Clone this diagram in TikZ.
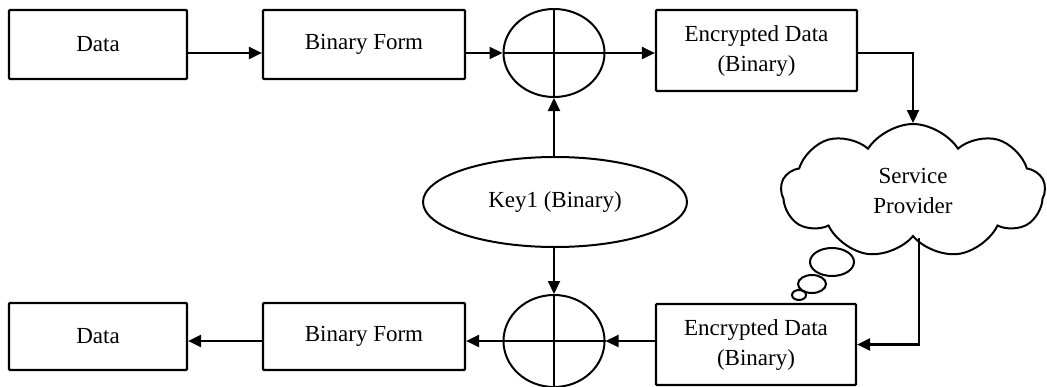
\documentclass[tikz,border=0pt]{standalone}
\usepackage{fontspec}
\setmainfont{Liberation Serif}
\usetikzlibrary{shapes.geometric,shapes.symbols,arrows.meta}
\begin{document}
\begin{tikzpicture}[x=1pt,y=-1pt,
  every node/.style={font=\fontsize{23}{30}\selectfont, inner sep=0pt, align=center},
  stagebox/.style={draw, line width=2.2pt, rounded corners=1pt},
  xorring/.style={draw, ellipse, line width=2pt, minimum width=101pt},
  keyoval/.style={draw, ellipse, line width=2pt, minimum width=264pt, minimum height=90pt},
  flow/.style={line width=2.2pt, -{Triangle[length=13pt,width=12pt]}}]
  \fill[white] (0,0) rectangle (1047,386);
  \useasboundingbox (0,0) rectangle (1047,386);

  % encryption row
  \node[stagebox, minimum width=178pt, minimum height=69pt] (data1) at (98,44.5) {Data};
  \node[stagebox, minimum width=202pt, minimum height=69pt] (bin1) at (364,44.5) {Binary Form};
  \node[xorring, minimum height=88pt] (xor1) at (554,53) {};
  \node[stagebox, minimum width=201pt, minimum height=81pt] (enc1) at (756.5,50.5) {Encrypted Data\\(Binary)};

  % key
  \node[keyoval] (key) at (555,202) {Key1 (Binary)};

  % service provider cloud and its thought bubbles
  \node[cloud, draw, line width=2pt, cloud puffs=9, cloud puff arc=115, cloud ignores aspect,
        minimum width=264pt, minimum height=134pt] (cloud) at (913,191) {Service\\Provider};
  \coordinate (exit) at ([xshift=6pt]cloud.south);
  \draw[line width=2pt] (832,262) ellipse [x radius=22, y radius=14];
  \draw[line width=2pt] (812,284) ellipse [x radius=14, y radius=9];
  \draw[line width=2pt] (799,295) ellipse [x radius=7, y radius=5];

  % decryption row
  \node[stagebox, minimum width=178pt, minimum height=67pt] (data2) at (98,336.5) {Data};
  \node[stagebox, minimum width=202pt, minimum height=67pt] (bin2) at (364,336.5) {Binary Form};
  \node[xorring, minimum height=92pt] (xor2) at (554,341) {};
  \node[stagebox, minimum width=200pt, minimum height=81pt] (enc2) at (756,344.5) {Encrypted Data\\(Binary)};

  % crosses inside the XOR symbols
  \draw[line width=2pt] (xor1.north) -- (xor1.south) (xor1.west) -- (xor1.east);
  \draw[line width=2pt] (xor2.north) -- (xor2.south) (xor2.west) -- (xor2.east);

  % connectors
  \draw[flow] (data1.east |- xor1.center) -- (bin1.west |- xor1.center);
  \draw[flow] (bin1.east |- xor1.center) -- (xor1.west);
  \draw[flow] (xor1.east) -- (enc1.west |- xor1.center);
  \draw[flow] (key.north -| xor1.center) -- (xor1.south);
  \draw[flow] (enc1.east |- xor1.center) -| (cloud.north);
  \draw[flow] (exit) |- (enc2.east);
  \draw[flow] (key.south -| xor2.center) -- (xor2.north);
  \draw[flow] (enc2.west |- xor2.center) -- (xor2.east);
  \draw[flow] (xor2.west) -- (bin2.east |- xor2.center);
  \draw[flow] (bin2.west |- xor2.center) -- (data2.east |- xor2.center);
\end{tikzpicture}
\end{document}
